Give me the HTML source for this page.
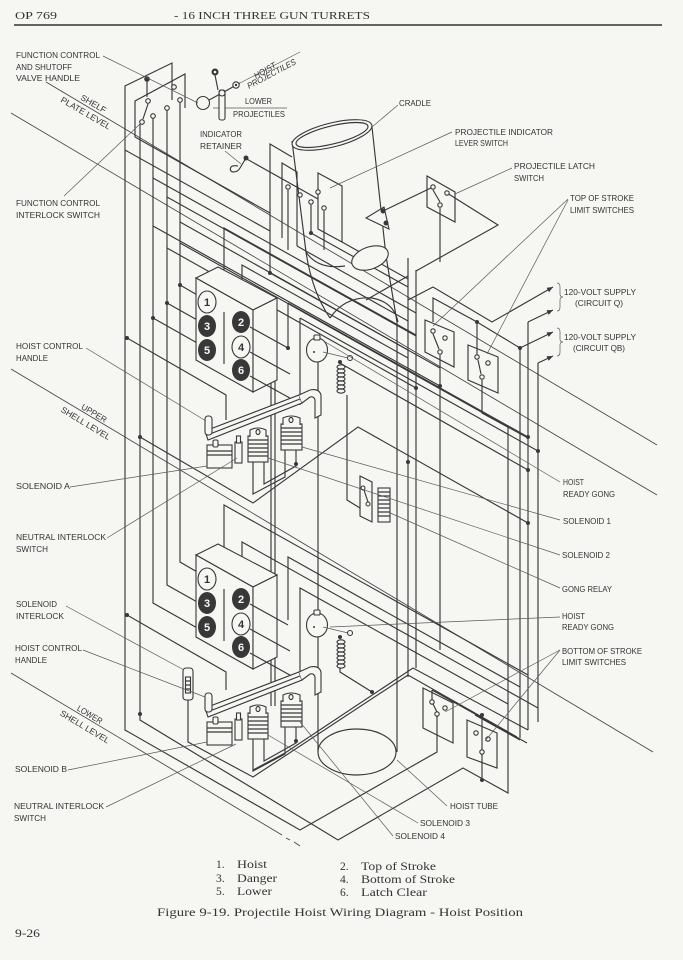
<!DOCTYPE html>
<html><head><meta charset="utf-8"><title>Projectile Hoist Wiring Diagram</title>
<style>
html,body{margin:0;padding:0;background:#f6f6f3;}
svg{display:block}
.w{fill:none;stroke:#383838;stroke-width:1.15;stroke-linejoin:miter}
.f{fill:#f6f6f3;stroke:#383838;stroke-width:1.1}
.t{fill:none;stroke:#5a5a5a;stroke-width:0.7}
.lv{fill:none;stroke:#444;stroke-width:0.85}
.lb{font-family:"Liberation Sans",sans-serif;font-size:8.5px;fill:#333}
.sf{font-family:"Liberation Serif",serif;fill:#333}
.num{font-family:"Liberation Sans",sans-serif;font-size:11px;font-weight:bold;text-anchor:middle}
.d{fill:#383838}
</style></head><body>
<svg width="683" height="960" viewBox="0 0 683 960" xmlns="http://www.w3.org/2000/svg">
<rect width="683" height="960" fill="#f6f6f3"/>

<!-- header -->
<text class="sf" x="15" y="19" font-size="11" textLength="42" lengthAdjust="spacingAndGlyphs">OP 769</text>
<text class="sf" x="174" y="19" font-size="11" textLength="196" lengthAdjust="spacingAndGlyphs">- 16 INCH THREE GUN TURRETS</text>
<line x1="14" y1="25" x2="662" y2="25" stroke="#333" stroke-width="1.5"/>

<!-- level lines -->
<path class="lv" d="M46,82 L657,445"/>
<path class="lv" d="M11,113 L657,495"/>
<path class="lv" d="M11,369 L653,752"/>
<path class="lv" d="M11,673 L282,835 M286,838 L290,840 M294,842 L300,846"/>

<!-- ======= WIRES ======= -->
<g class="w">
<path d="M172,100 L172,63 L125,86 L125,730 L300,830 L437,752 L437,712"/>
<path d="M135,137 L135,101 L185,74 L185,108"/>
<path d="M140,124 L140,720 L338,840 L463,768 L508,793 L508,427"/>
<path d="M153,118 L153,603 L199,629"/>
<path d="M167,110 L167,585 L199,603"/>
<path d="M180,102 L180,562 L199,573"/>
<path d="M180,285 L199,296 M167,303 L199,321 M153,318 L199,344"/>
<path d="M147,79 L147,97 M148,104 L143,119"/>

<path d="M153,178 L408,321"/>
<path d="M167,197 L416,336"/>
<path d="M180,222 L440,368"/>
<path d="M153,226 L440,386"/>
<path d="M167,248 L416,388"/>
<path d="M180,243 L508,427"/>
<path d="M125,150 L270,231"/>
<path d="M135,137 L270,213"/>
<path d="M224,282 L224,228 L416,335"/>
<path d="M242,290 L242,265 L408,358"/>
<path d="M245,158 L318,199"/>

<path d="M292,157 L270,144 L270,273"/>
<path d="M282,238 L282,163 L297,172 L297,246"/>
<path d="M318,173 L342,186 L342,242 L318,229 Z"/>
<path d="M288,190 L288,250 M311,205 L311,233 M324,211 L324,250"/>
<path d="M270,273 L408,350"/>
<path d="M311,233 L408,287"/>
<path d="M297,246 L416,313"/>
<path d="M342,242 L408,279"/>

<path d="M427,176 L455,192 L455,222 L427,207 Z"/>
<path d="M433,190 L440,202"/>
<path d="M447,193 L498,225 L416,271"/>
<path d="M366,300 L408,276"/>
<path d="M440,208 L440,262"/>
<path d="M383,211 L433,187"/>

<path d="M408,258 L408,677"/>
<path d="M416,270 L416,668"/>
<path d="M440,355 L440,650"/>
<path d="M520,348 L520,738"/>
<path d="M528,322 L528,730"/>
<path d="M538,363 L538,722"/>

<path d="M408,300 L433,287 L492,322 L553,287"/>
<path d="M433,322 L433,298 L477,322 L520,348 L553,332"/>
<path d="M477,322 L477,357"/>
<path d="M528,322 L553,310"/>
<path d="M538,363 L553,356"/>
<path d="M425,320 L454,332 L454,367 L425,352 Z"/>
<path d="M468,345 L498,357 L498,393 L468,380 Z"/>
<path d="M433,334 L439,349 M478,360 L481,374"/>
<path d="M482,380 L482,413 L528,438"/>

<path d="M288,303 L528,437 M288,303 L288,350"/>
<path d="M300,318 L538,451 M300,318 L300,405"/>
<path d="M338,362 L528,470"/>
<path d="M140,437 L253,503 L358,427 L528,523"/>
<path d="M127,338 L226,395 L226,420"/>

<path d="M127,615 L226,672 L226,690"/>
<path d="M224,560 L224,505 L528,675"/>
<path d="M242,578 L242,542 L538,708"/>
<path d="M288,620 L288,557 L520,687"/>
<path d="M300,680 L300,588 L508,704"/>
<path d="M188,700 L188,742 L253,777 L408,675 L517,737"/>
<path d="M253,770 L285,753 L413,668 L528,730"/>
<path d="M340,668 L340,672 L372,692"/>

<path d="M423,688 L453,703 L453,743 L423,728 Z"/>
<path d="M467,720 L497,733 L497,768 L467,757 Z"/>
<path d="M432,690 L432,702 L437,712 M432,690 L527,743"/>
<path d="M482,715 L482,780"/>
<path d="M475,715 L520,740"/>

<path d="M347,395 L347,500 L360,508"/>
<path d="M360,476 L372,482 L372,522 L360,516 Z"/>
<path d="M364,490 L368,502"/>

<path d="M318,362 L318,752"/>
<path d="M397,322 L397,752"/>
<path d="M330,318 Q345,296 372,298 Q394,302 398,322"/>
<path d="M306,252 Q312,292 330,318"/>
<path d="M386,256 L397,322"/>

<path d="M271,368 L271,706 M275,368 L275,706"/>
</g>
<ellipse cx="357" cy="752" rx="39" ry="23" class="w" stroke-width="0.9"/>

<!-- cradle -->
<path d="M292,141 L306,252 Q318,270 345,266 M372,127 L386,256" class="w" stroke-width="1"/>
<ellipse cx="370" cy="258" rx="19" ry="11" transform="rotate(-20 370 258)" class="f" stroke-width="0.9"/>
<ellipse cx="332" cy="135" rx="41" ry="12" transform="rotate(-14 332 135)" class="f" stroke-width="0.9"/>
<ellipse cx="332" cy="135" rx="37" ry="9" transform="rotate(-14 332 135)" class="w" stroke-width="0.7"/>
<path d="M366,218 L384,207 L389,229 Z" class="f"/>

<!-- hoist/lower indicator lever -->
<path class="w" d="M209,100 L222,93 L240,83"/>
<path class="t" d="M240,83 L300,52 M213,108 L287,108"/>
<rect x="219" y="90" width="6" height="30" rx="2" class="f"/>
<circle cx="203" cy="103" r="6.5" class="f"/>
<circle cx="222" cy="93" r="3" class="f"/>
<circle cx="236" cy="85" r="3.2" class="f"/>
<circle cx="236" cy="85" r="1.2" class="d"/>
<path class="w" d="M215,75 L218,90"/>
<circle cx="215" cy="72" r="3.5" class="d"/>
<circle cx="215" cy="72" r="1.3" fill="#f6f6f3"/>

<!-- indicator retainer -->
<path class="w" d="M246,158 L240,168 Q238,172 233,172 Q229,171 231,167 Q233,165 238,166"/>

<!-- ======= UPPER ASSEMBLY ======= -->
<g>
<path d="M196,278 L218,267 L277,298 L253,310 Z" class="f"/>
<path d="M196,278 L253,310 L253,392 L196,360 Z" class="f"/>
<path d="M253,310 L277,298 L277,380 L253,392 Z" class="f"/>
<path d="M224,312 L224,364" class="w"/>
<ellipse cx="207" cy="302" rx="9" ry="11" class="f"/>
<ellipse cx="207" cy="326" rx="9" ry="11" fill="#383838"/>
<ellipse cx="207" cy="350" rx="9" ry="11" fill="#383838"/>
<ellipse cx="241" cy="322" rx="9" ry="11" fill="#383838"/>
<ellipse cx="241" cy="347" rx="9" ry="11" class="f"/>
<ellipse cx="241" cy="370" rx="9" ry="11" fill="#383838"/>
<text class="num" x="207" y="306" fill="#333">1</text>
<text class="num" x="207" y="330" fill="#f6f6f3">3</text>
<text class="num" x="207" y="354" fill="#f6f6f3">5</text>
<text class="num" x="241" y="326" fill="#f6f6f3">2</text>
<text class="num" x="241" y="351" fill="#333">4</text>
<text class="num" x="241" y="374" fill="#f6f6f3">6</text>
<path class="w" d="M250,327 L288,348 M250,352 L290,374 M250,376 L297,402"/>
<path d="M205,431 L299,395 L302,403 L208,440 Z" class="f"/>
<path d="M206,435.5 L300,399" class="w" stroke-width="0.8"/>
<path d="M299,395 L310,390 Q319,388 321,395 L321,415 L315,418 L315,400 Q314,396 310,397 L302,403" class="f"/>
<rect x="205" y="416" width="7" height="19" rx="3" class="f"/>
<rect x="207" y="445" width="25" height="23" class="f"/>
<path d="M207,451 H232 M207,455 H232" class="w" stroke-width="0.8"/>
<rect x="213" y="440" width="5" height="7" rx="1.5" class="f"/>
<rect x="235" y="442" width="7" height="21" class="f"/>
<rect x="236.5" y="436" width="4" height="7" class="f"/>
<rect x="248" y="436" width="20" height="26" class="f"/>
<path d="M248,440 H268 M248,444 H268 M248,448 H268 M248,452 H268 M248,456 H268" class="w" stroke-width="0.9"/>
<path d="M250,437 L250,430 Q258,426 266,430 L266,437" class="f"/>
<ellipse cx="258" cy="432" rx="2" ry="2.5" class="w" stroke-width="0.8"/>
<rect x="281" y="424" width="21" height="26" class="f"/>
<path d="M281,428 H302 M281,432 H302 M281,436 H302 M281,440 H302 M281,444 H302" class="w" stroke-width="0.9"/>
<path d="M283,425 L283,418 Q291,414 300,418 L300,425" class="f"/>
<ellipse cx="291" cy="420" rx="2" ry="2.5" class="w" stroke-width="0.8"/>
<path d="M253,462 L253,494 L285,477 L285,450 M264,462 L264,484 L296,466 L296,450" class="w"/>
</g>

<!-- ======= LOWER ASSEMBLY ======= -->
<g transform="translate(0,277)">
<path d="M196,278 L218,267 L277,298 L253,310 Z" class="f"/>
<path d="M196,278 L253,310 L253,392 L196,360 Z" class="f"/>
<path d="M253,310 L277,298 L277,380 L253,392 Z" class="f"/>
<path d="M224,312 L224,364" class="w"/>
<ellipse cx="207" cy="302" rx="9" ry="11" class="f"/>
<ellipse cx="207" cy="326" rx="9" ry="11" fill="#383838"/>
<ellipse cx="207" cy="350" rx="9" ry="11" fill="#383838"/>
<ellipse cx="241" cy="322" rx="9" ry="11" fill="#383838"/>
<ellipse cx="241" cy="347" rx="9" ry="11" class="f"/>
<ellipse cx="241" cy="370" rx="9" ry="11" fill="#383838"/>
<text class="num" x="207" y="306" fill="#333">1</text>
<text class="num" x="207" y="330" fill="#f6f6f3">3</text>
<text class="num" x="207" y="354" fill="#f6f6f3">5</text>
<text class="num" x="241" y="326" fill="#f6f6f3">2</text>
<text class="num" x="241" y="351" fill="#333">4</text>
<text class="num" x="241" y="374" fill="#f6f6f3">6</text>
<path class="w" d="M250,327 L288,348 M250,352 L290,374 M250,376 L297,402"/>
<path d="M205,431 L299,395 L302,403 L208,440 Z" class="f"/>
<path d="M206,435.5 L300,399" class="w" stroke-width="0.8"/>
<path d="M299,395 L310,390 Q319,388 321,395 L321,415 L315,418 L315,400 Q314,396 310,397 L302,403" class="f"/>
<rect x="205" y="416" width="7" height="19" rx="3" class="f"/>
<rect x="207" y="445" width="25" height="23" class="f"/>
<path d="M207,451 H232 M207,455 H232" class="w" stroke-width="0.8"/>
<rect x="213" y="440" width="5" height="7" rx="1.5" class="f"/>
<rect x="235" y="442" width="7" height="21" class="f"/>
<rect x="236.5" y="436" width="4" height="7" class="f"/>
<rect x="248" y="436" width="20" height="26" class="f"/>
<path d="M248,440 H268 M248,444 H268 M248,448 H268 M248,452 H268 M248,456 H268" class="w" stroke-width="0.9"/>
<path d="M250,437 L250,430 Q258,426 266,430 L266,437" class="f"/>
<ellipse cx="258" cy="432" rx="2" ry="2.5" class="w" stroke-width="0.8"/>
<rect x="281" y="424" width="21" height="26" class="f"/>
<path d="M281,428 H302 M281,432 H302 M281,436 H302 M281,440 H302 M281,444 H302" class="w" stroke-width="0.9"/>
<path d="M283,425 L283,418 Q291,414 300,418 L300,425" class="f"/>
<ellipse cx="291" cy="420" rx="2" ry="2.5" class="w" stroke-width="0.8"/>
<path d="M253,462 L253,494 L285,477 L285,450 M264,462 L264,484 L296,466 L296,450" class="w"/>
</g>

<!-- solenoid interlock (lower) -->
<rect x="183" y="668" width="10" height="32" rx="3" class="f"/>
<rect x="185.5" y="677" width="5" height="16" class="f"/>
<path d="M185.5,681 H190.5 M185.5,685 H190.5 M185.5,689 H190.5" class="w" stroke-width="0.8"/>

<!-- gongs -->
<g>
<ellipse cx="317" cy="350" rx="10.5" ry="12" class="f"/>
<rect x="314" y="335" width="6" height="5" rx="1" class="f"/>
<circle cx="314" cy="352" r="1" class="d"/>
<path class="t" d="M323,352 L348,358"/>
<circle cx="350" cy="358" r="2.5" class="f"/>
<ellipse cx="341" cy="367" rx="4" ry="2.2" class="w" stroke-width="1"/>
<ellipse cx="341" cy="371" rx="4" ry="2.2" class="w" stroke-width="1"/>
<ellipse cx="341" cy="375" rx="4" ry="2.2" class="w" stroke-width="1"/>
<ellipse cx="341" cy="379" rx="4" ry="2.2" class="w" stroke-width="1"/>
<ellipse cx="341" cy="383" rx="4" ry="2.2" class="w" stroke-width="1"/>
<ellipse cx="341" cy="387" rx="4" ry="2.2" class="w" stroke-width="1"/>
<ellipse cx="341" cy="391" rx="4" ry="2.2" class="w" stroke-width="1"/>
</g>
<g transform="translate(0,275)">
<ellipse cx="317" cy="350" rx="10.5" ry="12" class="f"/>
<rect x="314" y="335" width="6" height="5" rx="1" class="f"/>
<circle cx="314" cy="352" r="1" class="d"/>
<path class="t" d="M323,352 L348,358"/>
<circle cx="350" cy="358" r="2.5" class="f"/>
<ellipse cx="341" cy="367" rx="4" ry="2.2" class="w" stroke-width="1"/>
<ellipse cx="341" cy="371" rx="4" ry="2.2" class="w" stroke-width="1"/>
<ellipse cx="341" cy="375" rx="4" ry="2.2" class="w" stroke-width="1"/>
<ellipse cx="341" cy="379" rx="4" ry="2.2" class="w" stroke-width="1"/>
<ellipse cx="341" cy="383" rx="4" ry="2.2" class="w" stroke-width="1"/>
<ellipse cx="341" cy="387" rx="4" ry="2.2" class="w" stroke-width="1"/>
<ellipse cx="341" cy="391" rx="4" ry="2.2" class="w" stroke-width="1"/>
</g>

<!-- gong relay coil -->
<rect x="378" y="488" width="12" height="34" class="f"/>
<path d="M378,492 H390 M378,496 H390 M378,500 H390 M378,504 H390 M378,508 H390 M378,512 H390 M378,516 H390" class="w" stroke-width="0.9"/>

<!-- switch contacts -->
<g class="f" stroke-width="1">
<circle cx="148" cy="101" r="2.3"/><circle cx="174" cy="87" r="2.3"/><circle cx="142" cy="122" r="2.3"/>
<circle cx="153" cy="116" r="2.3"/><circle cx="167" cy="108" r="2.3"/><circle cx="180" cy="100" r="2.3"/>
<circle cx="288" cy="187" r="2.2"/><circle cx="300" cy="195" r="2.2"/><circle cx="311" cy="202" r="2.2"/>
<circle cx="318" cy="192" r="2.2"/><circle cx="324" cy="208" r="2.2"/>
<circle cx="433" cy="187" r="2.2"/><circle cx="447" cy="193" r="2.2"/><circle cx="440" cy="205" r="2.2"/>
<circle cx="433" cy="331" r="2.2"/><circle cx="445" cy="338" r="2.2"/><circle cx="440" cy="352" r="2.2"/>
<circle cx="477" cy="357" r="2.2"/><circle cx="488" cy="363" r="2.2"/><circle cx="482" cy="377" r="2.2"/>
<circle cx="432" cy="702" r="2.2"/><circle cx="445" cy="708" r="2.2"/><circle cx="437" cy="714" r="2.2"/>
<circle cx="476" cy="733" r="2.2"/><circle cx="488" cy="739" r="2.2"/><circle cx="482" cy="752" r="2.2"/>
<circle cx="363" cy="488" r="2"/><circle cx="368" cy="504" r="2"/>
</g>

<!-- junction dots -->
<g class="d">
<circle cx="147" cy="79" r="2.8"/>
<circle cx="180" cy="285" r="2"/><circle cx="167" cy="303" r="2"/><circle cx="153" cy="318" r="2"/>
<circle cx="140" cy="437" r="2"/><circle cx="127" cy="338" r="2"/><circle cx="127" cy="615" r="2"/>
<circle cx="288" cy="348" r="2"/><circle cx="296" cy="464" r="2"/><circle cx="296" cy="741" r="2"/>
<circle cx="311" cy="233" r="2"/><circle cx="270" cy="273" r="2"/><circle cx="477" cy="322" r="2"/>
<circle cx="528" cy="437" r="2"/><circle cx="538" cy="451" r="2"/><circle cx="528" cy="470" r="2"/>
<circle cx="528" cy="523" r="2"/><circle cx="416" cy="388" r="2"/><circle cx="440" cy="386" r="2"/>
<circle cx="408" cy="462" r="2"/><circle cx="372" cy="692" r="2"/><circle cx="482" cy="715" r="2"/>
<circle cx="482" cy="780" r="2"/><circle cx="383" cy="211" r="2.5"/><circle cx="386" cy="223" r="2.5"/>
<circle cx="246" cy="158" r="2.5"/><circle cx="340" cy="362" r="2"/><circle cx="340" cy="637" r="2"/>
<circle cx="520" cy="348" r="2"/><circle cx="140" cy="714" r="2"/>
</g>

<!-- arrows -->
<g class="d">
<polygon points="553,287 549,292.2 546.6,287.8"/>
<polygon points="553,310 548.7,314.9 546.5,310.3"/>
<polygon points="553,332 548.7,336.9 546.5,332.4"/>
<polygon points="553,356 548.7,360.8 546.5,356.2"/>
</g>
<path class="t" stroke-width="0.9" d="M557,283 Q560,283 560,287 L560,294 Q560,297 563,297 Q560,297 560,300 L560,307 Q560,311 557,311"/>
<path class="t" stroke-width="0.9" d="M557,328 Q560,328 560,332 L560,339 Q560,342 563,342 Q560,342 560,345 L560,352 Q560,356 557,356"/>

<!-- leader lines -->
<g class="t">
<path d="M103,56 L198,103"/>
<path d="M64,196 L140,124"/>
<path d="M86,348 L206,421"/>
<path d="M70,487 L207,466"/>
<path d="M107,538 L237,458"/>
<path d="M66,606 L184,670"/>
<path d="M83,650 L205,697"/>
<path d="M68,770 L207,742"/>
<path d="M106,807 L236,744"/>
<path d="M398,105 L372,127"/>
<path d="M225,151 L241,164"/>
<path d="M452,132 L330,188"/>
<path d="M512,168 L455,194"/>
<path d="M568,199 L433,326 M568,200 L487,354"/>
<path d="M322,340 L560,482"/>
<path d="M302,447 L560,520"/>
<path d="M268,458 L560,555"/>
<path d="M388,512 L560,588"/>
<path d="M330,627 L560,617"/>
<path d="M560,650 L445,712 M560,650 L485,741"/>
<path d="M397,760 L447,806"/>
<path d="M268,735 L418,823"/>
<path d="M300,722 L393,836"/>
</g>

<!-- labels -->
<g class="lb">
<text x="16" y="58" textLength="84" lengthAdjust="spacingAndGlyphs">FUNCTION CONTROL</text>
<text x="16" y="70" textLength="56" lengthAdjust="spacingAndGlyphs">AND SHUTOFF</text>
<text x="16" y="81" textLength="64" lengthAdjust="spacingAndGlyphs">VALVE HANDLE</text>
<text x="16" y="206" textLength="84" lengthAdjust="spacingAndGlyphs">FUNCTION CONTROL</text>
<text x="16" y="218" textLength="84" lengthAdjust="spacingAndGlyphs">INTERLOCK SWITCH</text>
<text x="16" y="349" textLength="67" lengthAdjust="spacingAndGlyphs">HOIST CONTROL</text>
<text x="16" y="361" textLength="32" lengthAdjust="spacingAndGlyphs">HANDLE</text>
<text x="16" y="489" textLength="54" lengthAdjust="spacingAndGlyphs">SOLENOID A</text>
<text x="16" y="540" textLength="90" lengthAdjust="spacingAndGlyphs">NEUTRAL INTERLOCK</text>
<text x="16" y="552" textLength="32" lengthAdjust="spacingAndGlyphs">SWITCH</text>
<text x="16" y="607" textLength="41" lengthAdjust="spacingAndGlyphs">SOLENOID</text>
<text x="16" y="619" textLength="48" lengthAdjust="spacingAndGlyphs">INTERLOCK</text>
<text x="15" y="651" textLength="67" lengthAdjust="spacingAndGlyphs">HOIST CONTROL</text>
<text x="15" y="663" textLength="32" lengthAdjust="spacingAndGlyphs">HANDLE</text>
<text x="15" y="772" textLength="52" lengthAdjust="spacingAndGlyphs">SOLENOID B</text>
<text x="14" y="809" textLength="90" lengthAdjust="spacingAndGlyphs">NEUTRAL INTERLOCK</text>
<text x="14" y="821" textLength="32" lengthAdjust="spacingAndGlyphs">SWITCH</text>

<g transform="translate(46,82) rotate(30)">
<text x="38" y="-2" textLength="28" lengthAdjust="spacingAndGlyphs">SHELF</text>
<text x="22" y="10" textLength="56" lengthAdjust="spacingAndGlyphs">PLATE LEVEL</text>
</g>
<g transform="translate(11,369) rotate(31)">
<text x="80" y="-2" textLength="28" lengthAdjust="spacingAndGlyphs">UPPER</text>
<text x="64" y="11" textLength="56" lengthAdjust="spacingAndGlyphs">SHELL LEVEL</text>
</g>
<g transform="translate(11,673) rotate(31)">
<text x="75" y="-2" textLength="28" lengthAdjust="spacingAndGlyphs">LOWER</text>
<text x="63" y="11" textLength="56" lengthAdjust="spacingAndGlyphs">SHELL LEVEL</text>
</g>
<text transform="translate(256,79) rotate(-30)" font-style="italic" textLength="24" lengthAdjust="spacingAndGlyphs">HOIST</text>
<text transform="translate(249,89) rotate(-28)" font-style="italic" textLength="54" lengthAdjust="spacingAndGlyphs">PROJECTILES</text>
<text x="245" y="104" textLength="27" lengthAdjust="spacingAndGlyphs">LOWER</text>
<text x="233" y="117" textLength="52" lengthAdjust="spacingAndGlyphs">PROJECTILES</text>

<text x="399" y="106" textLength="32" lengthAdjust="spacingAndGlyphs">CRADLE</text>
<text x="200" y="137" textLength="42" lengthAdjust="spacingAndGlyphs">INDICATOR</text>
<text x="200" y="149" textLength="42" lengthAdjust="spacingAndGlyphs">RETAINER</text>
<text x="455" y="135" textLength="98" lengthAdjust="spacingAndGlyphs">PROJECTILE INDICATOR</text>
<text x="455" y="146" textLength="53" lengthAdjust="spacingAndGlyphs">LEVER SWITCH</text>
<text x="514" y="169" textLength="81" lengthAdjust="spacingAndGlyphs">PROJECTILE LATCH</text>
<text x="514" y="181" textLength="30" lengthAdjust="spacingAndGlyphs">SWITCH</text>
<text x="570" y="201" textLength="64" lengthAdjust="spacingAndGlyphs">TOP OF STROKE</text>
<text x="570" y="213" textLength="64" lengthAdjust="spacingAndGlyphs">LIMIT SWITCHES</text>
<text x="564" y="295" textLength="72" lengthAdjust="spacingAndGlyphs">120-VOLT SUPPLY</text>
<text x="575" y="306" textLength="48" lengthAdjust="spacingAndGlyphs">(CIRCUIT Q)</text>
<text x="564" y="340" textLength="72" lengthAdjust="spacingAndGlyphs">120-VOLT SUPPLY</text>
<text x="573" y="351" textLength="52" lengthAdjust="spacingAndGlyphs">(CIRCUIT QB)</text>
<text x="563" y="485" textLength="21" lengthAdjust="spacingAndGlyphs">HOIST</text>
<text x="563" y="497" textLength="52" lengthAdjust="spacingAndGlyphs">READY GONG</text>
<text x="563" y="524" textLength="48" lengthAdjust="spacingAndGlyphs">SOLENOID 1</text>
<text x="562" y="558" textLength="48" lengthAdjust="spacingAndGlyphs">SOLENOID 2</text>
<text x="562" y="592" textLength="50" lengthAdjust="spacingAndGlyphs">GONG RELAY</text>
<text x="562" y="619" textLength="23" lengthAdjust="spacingAndGlyphs">HOIST</text>
<text x="562" y="630" textLength="52" lengthAdjust="spacingAndGlyphs">READY GONG</text>
<text x="562" y="654" textLength="80" lengthAdjust="spacingAndGlyphs">BOTTOM OF STROKE</text>
<text x="562" y="665" textLength="64" lengthAdjust="spacingAndGlyphs">LIMIT SWITCHES</text>
<text x="450" y="809" textLength="48" lengthAdjust="spacingAndGlyphs">HOIST TUBE</text>
<text x="420" y="826" textLength="50" lengthAdjust="spacingAndGlyphs">SOLENOID 3</text>
<text x="395" y="839" textLength="50" lengthAdjust="spacingAndGlyphs">SOLENOID 4</text>
</g>

<!-- legend -->
<g class="sf" font-size="11.5">
<text x="216" y="868">1.</text><text x="237" y="868" textLength="30" lengthAdjust="spacingAndGlyphs">Hoist</text>
<text x="216" y="882">3.</text><text x="237" y="882" textLength="40" lengthAdjust="spacingAndGlyphs">Danger</text>
<text x="216" y="895">5.</text><text x="237" y="895" textLength="35" lengthAdjust="spacingAndGlyphs">Lower</text>
<text x="340" y="870">2.</text><text x="361" y="870" textLength="75" lengthAdjust="spacingAndGlyphs">Top of Stroke</text>
<text x="340" y="883">4.</text><text x="361" y="883" textLength="94" lengthAdjust="spacingAndGlyphs">Bottom of Stroke</text>
<text x="340" y="896">6.</text><text x="361" y="896" textLength="66" lengthAdjust="spacingAndGlyphs">Latch Clear</text>
<text x="157" y="916" textLength="366" lengthAdjust="spacingAndGlyphs">Figure 9-19.  Projectile Hoist Wiring Diagram - Hoist Position</text>
<text x="15" y="937" textLength="25" lengthAdjust="spacingAndGlyphs">9-26</text>
</g>
</svg>
</body></html>
